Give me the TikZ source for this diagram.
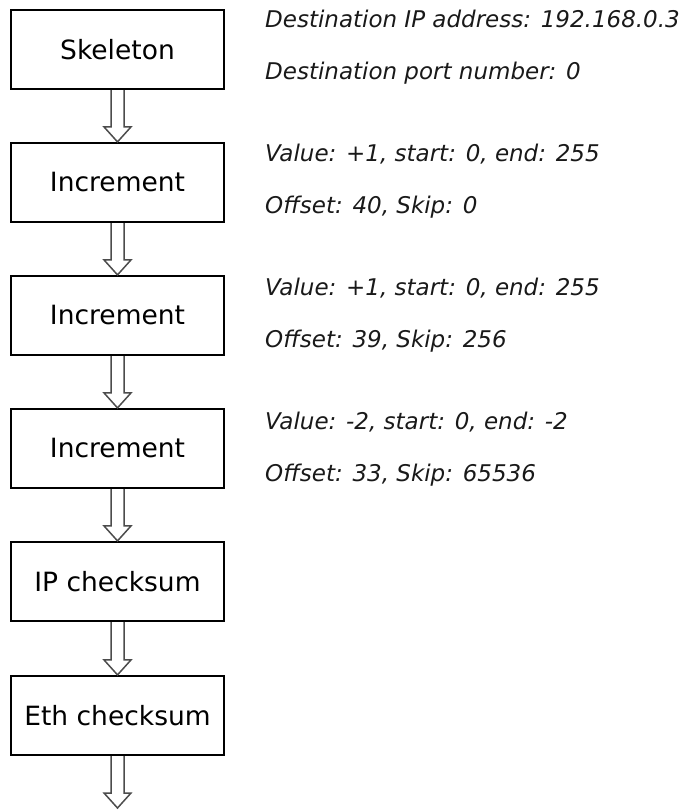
\documentclass[tikz,border=0pt]{standalone}
\usepackage{fontspec}
\setmainfont{DejaVu Sans}
\usetikzlibrary{calc}
\tikzset{
  stage/.style={draw=black, line width=2.2pt, minimum width=213pt, minimum height=79pt, inner sep=0pt, font=\fontsize{26.5}{30}\selectfont},
  note/.style={anchor=base west, inner sep=0pt, font=\fontsize{23}{27}\selectfont\itshape, text=black!90},
  hollow/.style={draw=black!70, line width=1.5pt, line join=miter}
}
\newcommand\harrow[2]{\draw[hollow] let \p1=(#1), \p2=(#2) in
  (\x1-6.5pt,\y1) -- (\x1-6.5pt,\y2+15pt) -- (\x1-13.5pt,\y2+15pt) -- (\x1,\y2)
  -- (\x1+13.5pt,\y2+15pt) -- (\x1+6.5pt,\y2+15pt) -- (\x1+6.5pt,\y1);}
\begin{document}
\begin{tikzpicture}[x=1pt,y=-1pt]
\useasboundingbox (0,0) rectangle (687,810);
\node[stage] (s0) at (117.5,49.5) {Skeleton};
\node[stage] (s1) at (117.5,182.5) {Increment};
\node[stage] (s2) at (117.5,315.5) {Increment};
\node[stage] (s3) at (117.5,448.5) {Increment};
\node[stage] (s4) at (117.5,581.5) {IP checksum};
\node[stage] (s5) at (117.5,715.5) {Eth checksum};
\coordinate (end) at (117.5,808);
\node[note] (n0a) at (265,28) {Destination IP address: 192.168.0.3};
\node[note] (n0b) at (265,80) {Destination port number: 0};
\node[note] (n1a) at (265,162) {Value: +1, start: 0, end: 255};
\node[note] (n1b) at (265,214) {Offset: 40, Skip: 0};
\node[note] (n2a) at (265,295) {Value: +1, start: 0, end: 255};
\node[note] (n2b) at (265,347) {Offset: 39, Skip: 256};
\node[note] (n3a) at (265,429) {Value: -2, start: 0, end: -2};
\node[note] (n3b) at (265,481) {Offset: 33, Skip: 65536};
\harrow{s0.south}{s1.north}
\harrow{s1.south}{s2.north}
\harrow{s2.south}{s3.north}
\harrow{s3.south}{s4.north}
\harrow{s4.south}{s5.north}
\harrow{s5.south}{end}
\end{tikzpicture}
\end{document}
